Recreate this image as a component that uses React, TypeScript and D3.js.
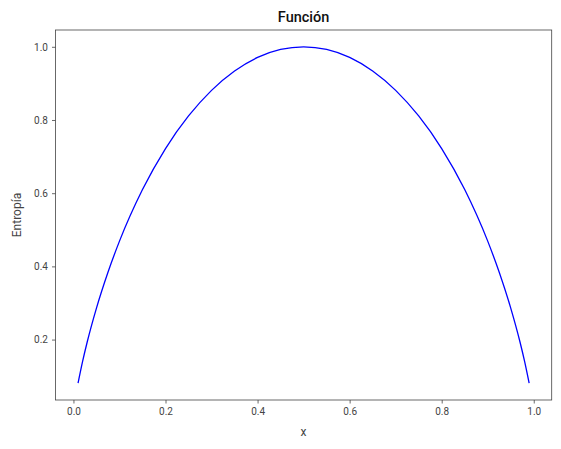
import React, { useEffect, useRef } from 'react';
import * as d3 from 'd3';

// probability values (x) and the entropy
const xs = [0.01, 0.02, 0.03, 0.05, 0.075, 0.1, 0.15, 0.2, 0.25, 0.3, 0.35, 0.4, 0.45, 0.5,
  0.55, 0.6, 0.65, 0.7, 0.75, 0.8, 0.85, 0.9, 0.925, 0.95, 0.97, 0.98, 0.99];
const entropy = [0.081, 0.141, 0.194, 0.286, 0.384, 0.469, 0.61, 0.722, 0.811, 0.881, 0.934, 0.971, 0.993, 1.0,
  0.993, 0.971, 0.934, 0.881, 0.811, 0.722, 0.61, 0.469, 0.384, 0.286, 0.194, 0.141, 0.081];
const xTicks = [0.0, 0.2, 0.4, 0.6, 0.8, 1.0];
const yTicks = [0.2, 0.4, 0.6, 0.8, 1.0];

const W = 561;
const H = 449;
const margin = { top: 30, right: 9.3, bottom: 49, left: 55.5 };
const FONT = 'Roboto, "DejaVu Sans", sans-serif';

export default function App() {
  const svgRef = useRef<SVGSVGElement>(null);

  useEffect(() => {
    if (!svgRef.current) return;
    const svg = d3.select(svgRef.current);
    svg.selectAll('*').remove();

    const x = d3.scaleLinear().domain([-0.039, 1.039]).range([margin.left, W - margin.right]);
    const y = d3.scaleLinear().domain([0.0349, 1.0459]).range([H - margin.bottom, margin.top]);

    const line = d3.line<number>()
      .x((_, i) => x(xs[i]))
      .y((d) => y(d))
      .curve(d3.curveMonotoneX);

    svg.append('path')
      .datum(entropy)
      .attr('d', line)
      .attr('fill', 'none')
      .attr('stroke', '#0000ff')
      .attr('stroke-width', 1.3);

    const xAxis = svg.append('g')
      .attr('transform', `translate(0,${H - margin.bottom})`)
      .call(d3.axisBottom(x).tickValues(xTicks).tickFormat(d3.format('.1f')).tickSize(3.5).tickPadding(4));
    const yAxis = svg.append('g')
      .attr('transform', `translate(${margin.left},0)`)
      .call(d3.axisLeft(y).tickValues(yTicks).tickFormat(d3.format('.1f')).tickSize(3.5).tickPadding(4));

    [xAxis, yAxis].forEach((g) => {
      g.select('.domain').remove();
      g.selectAll('line').attr('stroke', '#444').attr('stroke-width', 0.8);
      g.selectAll('text').attr('fill', '#444').attr('font-family', FONT).attr('font-size', '10px');
    });

    // frame
    svg.append('rect')
      .attr('x', margin.left)
      .attr('y', margin.top)
      .attr('width', W - margin.left - margin.right)
      .attr('height', H - margin.top - margin.bottom)
      .attr('fill', 'none')
      .attr('stroke', '#444')
      .attr('stroke-width', 0.8);

    svg.append('text')
      .attr('x', (margin.left + W - margin.right) / 2)
      .attr('y', 22)
      .attr('text-anchor', 'middle')
      .attr('fill', '#111')
      .attr('font-family', FONT)
      .attr('font-weight', 500)
      .attr('font-size', '14.5px')
      .text('Función');

    svg.append('text')
      .attr('x', (margin.left + W - margin.right) / 2)
      .attr('y', 436)
      .attr('text-anchor', 'middle')
      .attr('fill', '#444')
      .attr('font-family', FONT)
      .attr('font-size', '12px')
      .text('x');

    svg.append('text')
      .attr('transform', 'rotate(-90)')
      .attr('x', -(margin.top + H - margin.bottom) / 2)
      .attr('y', 21)
      .attr('text-anchor', 'middle')
      .attr('fill', '#444')
      .attr('font-family', FONT)
      .attr('font-size', '12px')
      .text('Entropía');
  }, []);

  return (
    <div style={{ position: 'absolute', left: 0, top: 0, width: W, height: H, background: '#fff' }}>
      <svg ref={svgRef} width={W} height={H} />
    </div>
  );
}
